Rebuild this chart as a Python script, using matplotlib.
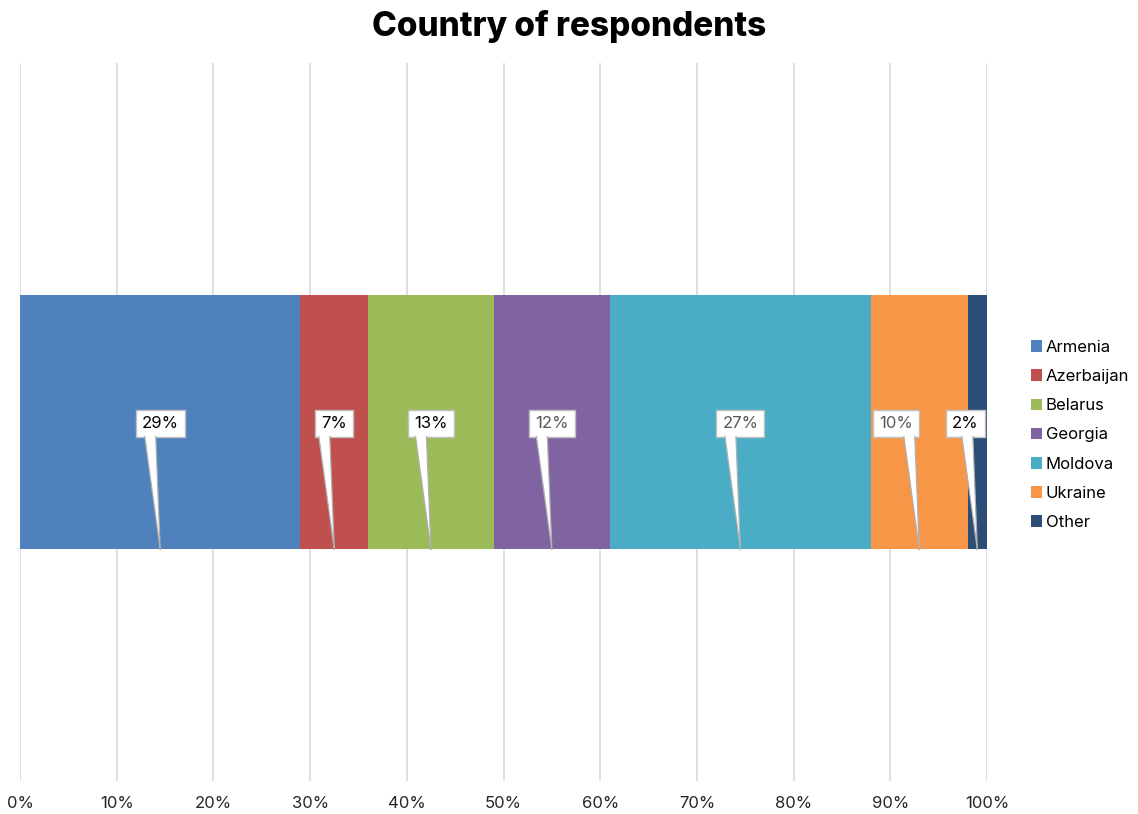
import numpy as np
import matplotlib
matplotlib.use("Agg")
import matplotlib.pyplot as plt
from matplotlib.patches import Polygon, Patch
from matplotlib.lines import Line2D
from matplotlib.transforms import offset_copy, IdentityTransform
from matplotlib.ticker import PercentFormatter

plt.rcParams["font.family"] = ["Inter", "DejaVu Sans"]

# --- Data ---
countries = ["Armenia", "Azerbaijan", "Belarus", "Georgia", "Moldova", "Ukraine", "Other"]
shares = [29, 7, 13, 12, 27, 10, 2]
colors = ["#4F81BD", "#C0504D", "#9BBB59", "#8064A2", "#4BACC6", "#F79646", "#2C4D75"]
label_colors = ["#000000", "#000000", "#000000", "#595959", "#595959", "#595959", "#000000"]
# horizontal nudge of the callout boxes (pixels), so the narrow end ones don't overlap
label_shift = [0, 0, 0, 0, 0, -23, -12]

BAR_H = 0.355
GRID = "#d9d9d9"
EDGE = "#b0b0b0"

fig = plt.figure(figsize=(11.38, 8.14), dpi=100)
ax = fig.add_axes([20 / 1138, 33 / 814, 967 / 1138, 718 / 814])

left = 0
segments = []
for name, val, col in zip(countries, shares, colors):
    ax.barh(0, val, left=left, height=BAR_H, color=col, zorder=2, label=name)
    segments.append((left + val / 2, val))
    left += val

ax.set_xlim(0, 100)
ax.set_ylim(-0.5, 0.5)
ax.set_xticks(np.arange(0, 101, 10))
ax.xaxis.set_major_formatter(PercentFormatter(decimals=0))
ax.set_yticks([])
ax.grid(axis="x", color=GRID, linewidth=1.2, zorder=0)
ax.tick_params(axis="x", length=0, pad=11, labelsize=12, labelcolor="#262626")
for s in ax.spines.values():
    s.set_visible(False)

fig.suptitle("Country of respondents", x=0.5, y=0.988, fontsize=24,
             fontweight=800, color="black")

# --- Callout labels ---
boxes = []
for (cx, val), lc, sh in zip(segments, label_colors, label_shift):
    tr = offset_copy(ax.transData, fig=fig, x=sh, y=-1, units="dots")
    t = ax.text(cx, 0, f"{val}%", transform=tr, ha="center", va="center",
                fontsize=12, color=lc, zorder=5,
                bbox=dict(boxstyle="square,pad=0.36", fc="white", ec="#bfbfbf", lw=1))
    boxes.append((t, cx))

fig.canvas.draw()
renderer = fig.canvas.get_renderer()
for t, cx in boxes:
    bb = t.get_bbox_patch().get_window_extent(renderer)
    tip = ax.transData.transform((cx, -BAR_H / 2))
    box_cx = (bb.x0 + bb.x1) / 2
    base_c = box_cx - 10 + 1.0 * (tip[0] - box_cx)
    base_c = min(base_c, bb.x1 - 8)
    y0 = bb.y0 + 1.5
    pts = [(base_c - 5.5, y0), (base_c + 5.5, y0), (tip[0], tip[1])]
    ax.add_patch(Polygon(pts, closed=True, fc="white", ec="none",
                         transform=IdentityTransform(), zorder=6, clip_on=False))
    for bx in (base_c - 5.5, base_c + 5.5):
        ax.add_line(Line2D([bx, tip[0]], [bb.y0, tip[1]], color=EDGE, lw=0.9,
                           transform=IdentityTransform(), zorder=6, clip_on=False))

# --- Legend ---
handles = [Patch(facecolor=c, edgecolor="none") for c in colors]
fig.legend(handles, countries, loc="center left",
           bbox_to_anchor=(1024 / 1138, 1 - 435 / 814), frameon=False,
           fontsize=12, handlelength=0.7, handleheight=0.7, handletextpad=0.22,
           labelspacing=0.85, borderaxespad=0)

fig.savefig("out.png", dpi=100)
